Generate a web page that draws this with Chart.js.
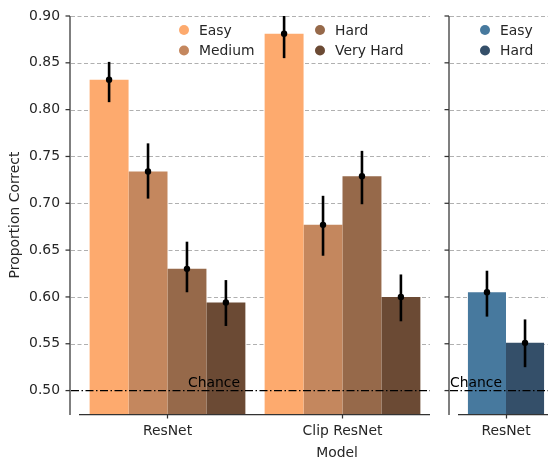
<!DOCTYPE html>
<html>
<head>
<meta charset="utf-8">
<script src="https://cdn.jsdelivr.net/npm/chart.js@4.4.1/dist/chart.umd.min.js"></script>
<style>
  html, body { margin: 0; padding: 0; background: #fff; overflow: hidden; }
  #wrap { position: relative; width: 548px; height: 461px; overflow: hidden; }
  #leftChart { position: absolute; left: 0; top: 0; }
  #rightChart { position: absolute; left: 440px; top: 0; }
</style>
</head>
<body>
<div id="wrap">
  <canvas id="leftChart" width="440" height="461"></canvas>
  <canvas id="rightChart" width="113" height="461"></canvas>
</div>
<script>
// --- data (left panel: 4 difficulty levels) ---
const leftModels = ['ResNet', 'Clip ResNet'];
const leftLevels = ['Easy', 'Medium', 'Hard', 'Very Hard'];
const easyMeans = [0.832, 0.881];
const easyLow = [0.808, 0.855];
const easyHigh = [0.851, 0.907];
const mediumMeans = [0.734, 0.677];
const mediumLow = [0.705, 0.644];
const mediumHigh = [0.764, 0.708];
const hardMeans = [0.630, 0.729];
const hardLow = [0.605, 0.699];
const hardHigh = [0.659, 0.756];
const veryHardMeans = [0.594, 0.600];
const veryHardLow = [0.569, 0.574];
const veryHardHigh = [0.618, 0.624];

// --- data (right panel: 2 difficulty levels) ---
const rightModels = ['ResNet'];
const rightLevels = ['Easy', 'Hard'];
const rEasyMeans = [0.605];
const rEasyLow = [0.579];
const rEasyHigh = [0.628];
const rHardMeans = [0.551];
const rHardLow = [0.525];
const rHardHigh = [0.576];

const yTicks = [0.50, 0.55, 0.60, 0.65, 0.70, 0.75, 0.80, 0.85, 0.90];
const chanceLevel = 0.5;

const leftColors = ['#fdaa6e', '#c4875e', '#96694a', '#6b4a34'];
const rightColors = ['#47799e', '#344f69'];

const FONT = 'DejaVu Sans';
const FS = 13.9;
const TEXT = '#262626';
const SPINE = '#333';
Chart.defaults.font.family = FONT;
Chart.defaults.font.size = FS;
Chart.defaults.color = TEXT;

// spines, grid, chance line, error bars, legend
const panelDecor = {
  id: 'panelDecor',
  beforeDatasetsDraw(chart, args, opts) {
    const ctx = chart.ctx;
    const area = chart.chartArea;
    const y = chart.scales.y;
    const spineX = area.left - 10;
    ctx.save();
    ctx.strokeStyle = '#b0b0b0';
    ctx.lineWidth = 1;
    ctx.setLineDash([4, 2.5]);
    yTicks.forEach(v => {
      if (v === chanceLevel) return;
      const py = Math.round(y.getPixelForValue(v)) + 0.5;
      ctx.beginPath();
      ctx.moveTo(spineX + 1, py);
      ctx.lineTo(area.right, py);
      ctx.stroke();
    });
    ctx.restore();
  },
  afterDatasetsDraw(chart, args, opts) {
    const ctx = chart.ctx;
    const area = chart.chartArea;
    const y = chart.scales.y;
    const spineX = area.left - 10;

    // error bars
    ctx.save();
    ctx.beginPath();
    ctx.rect(0, area.top, chart.width, area.bottom - area.top);
    ctx.clip();
    chart.data.datasets.forEach((ds, i) => {
      const meta = chart.getDatasetMeta(i);
      meta.data.forEach((bar, j) => {
        const top = y.getPixelForValue(ds.errHigh[j]);
        const bot = y.getPixelForValue(ds.errLow[j]);
        ctx.strokeStyle = '#000';
        ctx.lineWidth = 2.6;
        ctx.beginPath();
        ctx.moveTo(bar.x, top);
        ctx.lineTo(bar.x, bot);
        ctx.stroke();
        ctx.fillStyle = '#000';
        ctx.beginPath();
        ctx.arc(bar.x, bar.y, 3.2, 0, Math.PI * 2);
        ctx.fill();
      });
    });
    ctx.restore();

    // chance line
    const cy = y.getPixelForValue(chanceLevel);
    ctx.save();
    ctx.strokeStyle = '#000';
    ctx.lineWidth = 1.3;
    ctx.setLineDash([8, 2.5, 1.5, 2.5]);
    ctx.beginPath();
    ctx.moveTo(spineX + 1, cy);
    ctx.lineTo(area.right, cy);
    ctx.stroke();
    ctx.restore();

    ctx.save();
    ctx.fillStyle = '#000';
    ctx.font = FS + 'px "' + FONT + '"';
    ctx.textBaseline = 'alphabetic';
    ctx.textAlign = opts.chanceAlign;
    ctx.fillText('Chance', area.left + opts.chanceX, cy - 4);
    ctx.restore();

    // shared x-axis title, centred under both panels
    if (opts.xTitle) {
      ctx.save();
      ctx.fillStyle = TEXT;
      ctx.font = FS + 'px "' + FONT + '"';
      ctx.textAlign = 'center';
      ctx.textBaseline = 'middle';
      ctx.fillText(opts.xTitle, area.left + opts.xTitleX, chart.height - 8);
      ctx.restore();
    }

    // y spine, tick marks and bottom spine
    ctx.save();
    ctx.strokeStyle = SPINE;
    ctx.lineWidth = 1.25;
    ctx.beginPath();
    ctx.moveTo(spineX, area.top);
    ctx.lineTo(spineX, area.bottom + 1);
    ctx.stroke();
    yTicks.forEach(v => {
      const py = y.getPixelForValue(v);
      ctx.beginPath();
      ctx.moveTo(spineX - 4.5, py);
      ctx.lineTo(spineX, py);
      ctx.stroke();
    });
    ctx.beginPath();
    ctx.moveTo(area.left - 1, area.bottom + 0.5);
    ctx.lineTo(area.right, area.bottom + 0.5);
    ctx.stroke();
    ctx.restore();

    // legend (column-major, no frame)
    ctx.save();
    ctx.font = FS + 'px "' + FONT + '"';
    ctx.textBaseline = 'middle';
    ctx.textAlign = 'left';
    chart.data.datasets.forEach((ds, i) => {
      const col = Math.floor(i / 2);
      const row = i % 2;
      const lx = area.left + opts.legendCols[col];
      const ly = area.top + 14 + row * 20.5;
      ctx.fillStyle = ds.backgroundColor;
      ctx.beginPath();
      ctx.arc(lx, ly, 5, 0, Math.PI * 2);
      ctx.fill();
      ctx.fillStyle = TEXT;
      ctx.fillText(ds.label, lx + 15, ly + 1);
    });
    ctx.restore();
  }
};

function xAxis() {
  return {
    type: 'category',
    offset: true,
    grid: { display: true, offset: false, drawOnChartArea: false, tickLength: 4.5, color: SPINE, tickWidth: 1.25 },
    border: { display: false },
    ticks: { color: TEXT, padding: 5, font: { size: FS } },
    afterFit(scale) {
      scale.height = 47;
      scale.paddingLeft = 0;
      scale.paddingRight = 0;
    }
  };
}

function yAxis(showLabels, width) {
  return {
    min: 0.475,
    max: 0.9,
    grid: { display: false, drawTicks: false },
    border: { display: false },
    afterBuildTicks(scale) { scale.ticks = yTicks.map(v => ({ value: v })); },
    ticks: {
      display: showLabels,
      padding: 20,
      color: TEXT,
      font: { size: FS },
      callback: v => Number(v).toFixed(2)
    },
    title: { display: showLabels, text: 'Proportion Correct', color: TEXT, font: { size: FS }, padding: { top: 7, bottom: 0 } },
    afterFit(scale) {
      scale.width = width;
      scale.paddingTop = 0;
      scale.paddingBottom = 0;
    }
  };
}

new Chart(document.getElementById('leftChart').getContext('2d'), {
  type: 'bar',
  data: {
    labels: leftModels,
    datasets: [
      { label: leftLevels[0], data: easyMeans, errLow: easyLow, errHigh: easyHigh, backgroundColor: leftColors[0] },
      { label: leftLevels[1], data: mediumMeans, errLow: mediumLow, errHigh: mediumHigh, backgroundColor: leftColors[1] },
      { label: leftLevels[2], data: hardMeans, errLow: hardLow, errHigh: hardHigh, backgroundColor: leftColors[2] },
      { label: leftLevels[3], data: veryHardMeans, errLow: veryHardLow, errHigh: veryHardHigh, backgroundColor: leftColors[3] }
    ]
  },
  options: {
    responsive: false,
    animation: false,
    datasets: { bar: { categoryPercentage: 0.89, barPercentage: 1.0, borderWidth: 0 } },
    layout: { padding: { top: 16, right: 10, left: 0, bottom: 0 } },
    plugins: {
      legend: { display: false },
      tooltip: { enabled: false },
      panelDecor: { legendCols: [104, 240], chanceX: 160, chanceAlign: 'right', xTitle: 'Model', xTitleX: 257 }
    },
    scales: { x: xAxis(), y: yAxis(true, 80) }
  },
  plugins: [panelDecor]
});

new Chart(document.getElementById('rightChart').getContext('2d'), {
  type: 'bar',
  data: {
    labels: rightModels,
    datasets: [
      { label: rightLevels[0], data: rEasyMeans, errLow: rEasyLow, errHigh: rEasyHigh, backgroundColor: rightColors[0] },
      { label: rightLevels[1], data: rHardMeans, errLow: rHardLow, errHigh: rHardHigh, backgroundColor: rightColors[1] }
    ]
  },
  options: {
    responsive: false,
    animation: false,
    datasets: { bar: { categoryPercentage: 0.81, barPercentage: 1.0, borderWidth: 0 } },
    layout: { padding: { top: 16, right: 0, left: 0, bottom: 0 } },
    plugins: {
      legend: { display: false },
      tooltip: { enabled: false },
      panelDecor: { legendCols: [26], chanceX: -9, chanceAlign: 'left' }
    },
    scales: { x: xAxis(), y: yAxis(false, 19) }
  },
  plugins: [panelDecor]
});
</script>
</body>
</html>
